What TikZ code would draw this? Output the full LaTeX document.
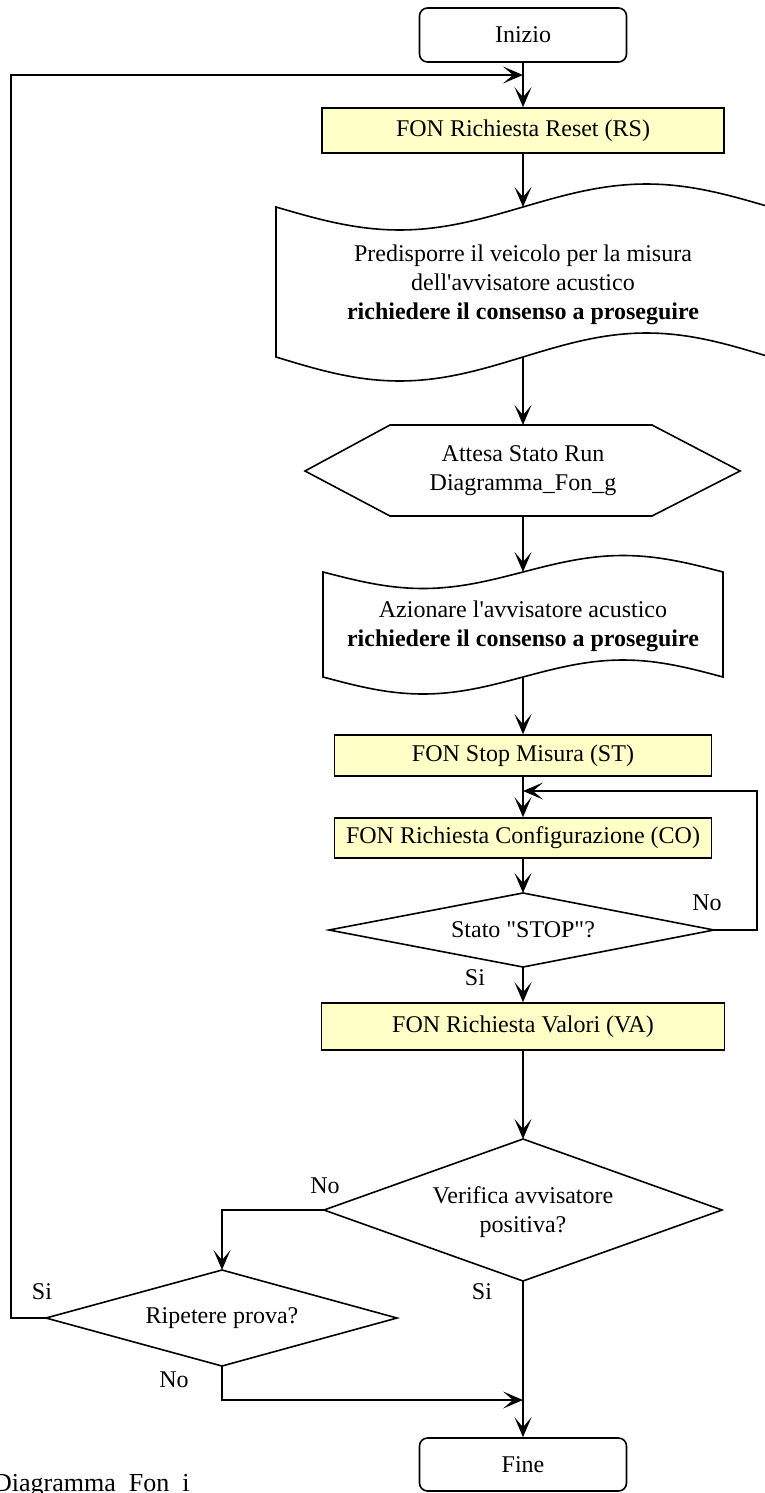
\documentclass[tikz,border=0pt]{standalone}
\usepackage{fontspec}
\setmainfont{Liberation Serif}[Ligatures=TeXOff]
\usetikzlibrary{arrows.meta}
\definecolor{procfill}{RGB}{255,255,200}
\begin{document}
\begin{tikzpicture}[x=1pt,y=-1pt,
  every node/.style={font=\fontsize{24}{29}\selectfont},
  proc/.style={draw, fill=procfill, line width=1.6pt, inner sep=0pt},
  term/.style={draw, fill=white, rounded corners=8pt, line width=1.6pt, inner sep=0pt, minimum width=207pt, minimum height=54pt},
  shp/.style={draw, line width=1.6pt},
  flow/.style={line width=1.4pt, -{Stealth[length=20pt, width=17pt, inset=10pt]}},
  conn/.style={line width=1.4pt},
  lbl/.style={inner sep=0pt},
  txt/.style={inner sep=0pt, align=center}]
\useasboundingbox (0,0) rectangle (764,1493);

% terminals and process boxes
\node[term] (ini) at (523,35) {Inizio};
\node[proc, minimum width=402pt, minimum height=45pt] (rs) at (523,130.5) {FON Richiesta Reset (RS)};

% tape 1
\draw[shp] plot[domain=0:360,samples=73] ({276+\x/360*494},{207+23*sin(\x)})
  -- plot[domain=360:0,samples=73] ({276+\x/360*494},{357+24*sin(\x)}) -- cycle;
\coordinate (t1n) at (523,207);
\coordinate (t1s) at (523,357);
\node[txt] (t1) at (523,285) {Predisporre il veicolo per la misura\\dell'avvisatore acustico\\\textbf{richiedere il consenso a proseguire}};

% hexagon
\draw[shp] (305,471) -- (390,425) -- (652,425) -- (740,471) -- (652,516) -- (390,516) -- cycle;
\coordinate (hxn) at (523,425);
\coordinate (hxs) at (523,516);
\node[txt] (hx) at (523,471) {Attesa Stato Run\\Diagramma\_Fon\_g};

% tape 2
\draw[shp] plot[domain=0:360,samples=73] ({323+\x/360*400},{572+16.5*sin(\x)})
  -- plot[domain=360:0,samples=73] ({323+\x/360*400},{677+17*sin(\x)}) -- cycle;
\coordinate (t2n) at (523,572);
\coordinate (t2s) at (523,677);
\node[txt] (t2) at (523,626) {Azionare l'avvisatore acustico\\\textbf{richiedere il consenso a proseguire}};

\node[proc, minimum width=377pt, minimum height=41pt] (st) at (523,755.5) {FON Stop Misura (ST)};
\node[proc, minimum width=377pt, minimum height=40pt] (co) at (523,838) {FON Richiesta Configurazione (CO)};

% diamond Stato STOP
\coordinate (sn) at (523,893);
\coordinate (ss) at (523,967);
\coordinate (sw) at (329,930);
\coordinate (se) at (714,930);
\draw[shp] (sn) -- (se) -- (ss) -- (sw) -- cycle;
\node[txt] (sd) at (523,930) {Stato "STOP"?};

\node[proc, minimum width=403pt, minimum height=47pt] (va) at (523,1026.5) {FON Richiesta Valori (VA)};

% diamond Verifica
\coordinate (vn) at (523,1139);
\coordinate (vs) at (523,1281);
\coordinate (vw) at (324,1210);
\coordinate (ve) at (722,1210);
\draw[shp] (vn) -- (ve) -- (vs) -- (vw) -- cycle;
\node[txt] (vd) at (523,1212) {Verifica avvisatore\\positiva?};

% diamond Ripetere
\coordinate (rn) at (222,1270);
\coordinate (rsouth) at (222,1366);
\coordinate (rw) at (46,1318);
\coordinate (re) at (397,1318);
\draw[shp] (rn) -- (re) -- (rsouth) -- (rw) -- cycle;
\node[txt] (rd) at (222,1318) {Ripetere prova?};

\node[term, minimum height=53pt] (fine) at (523,1464.5) {Fine};

% loop corner coordinates
\coordinate (top) at (523,75);
\coordinate (lc1) at (11,1318);
\coordinate (lc2) at (11,75);
\coordinate (sl1) at (757,930);
\coordinate (sl2) at (757,791);
\coordinate (sloop) at (523,791);
\coordinate (nb) at (222,1400);
\coordinate (nbm) at (523,1400);
\coordinate (vl) at (222,1210);

% connectors
\draw[conn] (ini.south) -- (top);
\draw[flow] (top) -- (rs.north);
\draw[flow] (rs.south) -- (t1n);
\draw[flow] (t1s) -- (hxn);
\draw[flow] (hxs) -- (t2n);
\draw[flow] (t2s) -- (st.north);
\draw[conn] (st.south) -- (sloop);
\draw[flow] (sloop) -- (co.north);
\draw[flow] (co.south) -- (sn);
\draw[flow] (ss) -- (va.north);
\draw[flow] (va.south) -- (vn);
\draw[flow] (se) -- (sl1) -- (sl2) -- (sloop);
\draw[flow] (vw) -- (vl) -- (rn);
\draw[flow] (rw) -- (lc1) -- (lc2) -- (top);
\draw[flow] (rsouth) -- (nb) -- (nbm);
\draw[conn] (vs) -- (nbm);
\draw[flow] (nbm) -- (fine.north);

% labels
\node[lbl] (l1) at (707,903) {No};
\node[lbl] (l2) at (475,978) {Si};
\node[lbl] (l3) at (325,1186) {No};
\node[lbl] (l4) at (42,1292) {Si};
\node[lbl] (l5) at (482,1292) {Si};
\node[lbl] (l6) at (174,1380) {No};
\node[lbl, anchor=base west, font=\fontsize{26}{30}\selectfont] (cap) at (-7,1491) {Diagramma\_Fon\_i};
\end{tikzpicture}
\end{document}
